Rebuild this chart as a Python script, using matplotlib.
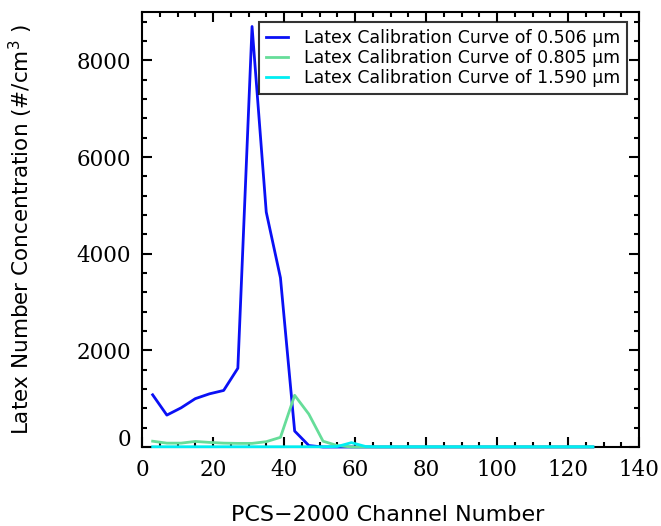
import numpy as np
import matplotlib
matplotlib.use("Agg")
import matplotlib.pyplot as plt
import matplotlib.transforms as mtransforms
from matplotlib.ticker import MultipleLocator

# PCS-2000 channel centres
channels = list(range(3, 128, 4))

conc_0506 = [1080, 660, 810, 1000, 1100, 1170, 1630, 8700, 4860, 3500, 330, 30,
             0, 0, 0, 0, 0, 0, 0, 0, 0, 0, 0, 0, 0, 0, 0, 0, 0, 0, 0, 0]
conc_0805 = [120, 80, 80, 115, 95, 80, 75, 75, 110, 200, 1070, 680,
             120, 30, 0, 0, 0, 0, 0, 0, 0, 0, 0, 0, 0, 0, 0, 0, 0, 0, 0, 0]
conc_1590 = [5, 5, 5, 5, 5, 5, 5, 5, 5, 5, 5, 5,
             5, 10, 90, 10, 5, 5, 5, 5, 5, 5, 5, 5, 5, 5, 5, 5, 5, 5, 5, 5]

series_labels = ["Latex Calibration Curve of 0.506 \u00b5m",
                 "Latex Calibration Curve of 0.805 \u00b5m",
                 "Latex Calibration Curve of 1.590 \u00b5m"]
series_colors = ["#0a10f5", "#66dd99", "#00eef2"]

x_ticks = [0, 20, 40, 60, 80, 100, 120, 140]
y_ticks = [0, 2000, 4000, 6000, 8000]

fig = plt.figure(figsize=(6.61, 5.26), dpi=100)
ax = fig.add_axes([142 / 661, 1 - 447 / 526, (639 - 142) / 661, (447 - 12) / 526])

for vals, lab, col in zip([conc_0506, conc_0805, conc_1590], series_labels, series_colors):
    ax.plot(channels, vals, color=col, lw=2.0, label=lab, clip_on=False, zorder=3)

ax.set_xlim(0, 140)
ax.set_ylim(0, 9000)
ax.set_xticks(x_ticks)
ax.set_yticks(y_ticks)
ax.xaxis.set_minor_locator(MultipleLocator(5))
ax.yaxis.set_minor_locator(MultipleLocator(400))
ax.tick_params(which="both", direction="in", top=True, right=True, width=1.5, color="black")
ax.tick_params(which="major", length=7)
ax.tick_params(which="minor", length=3.5)
ax.tick_params(axis="x", which="major", pad=9)
ax.tick_params(axis="y", which="major", pad=8)
for s in ax.spines.values():
    s.set_linewidth(1.5)

serif = "DejaVu Serif"
for t in ax.get_xticklabels() + ax.get_yticklabels():
    t.set_fontfamily(serif)
    t.set_fontsize(15.5)

# lift the "0" label on the y axis clear of the x tick labels
ylabs = ax.get_yticklabels()
ylabs[0].set_transform(ylabs[0].get_transform() +
                       mtransforms.ScaledTranslation(0, 10 / 100, fig.dpi_scale_trans))

sans = "DejaVu Sans"
fig.text(388 / 661, 1 - 515 / 526, "PCS\u22122000 Channel Number", fontfamily=sans,
         fontsize=16, ha="center", va="center")
fig.text(21 / 661, 1 - 230 / 526, "Latex Number Concentration (#/cm$^3$ )", fontfamily=sans,
         fontsize=15.5, ha="center", va="center", rotation=90)

leg = ax.legend(loc="upper right", bbox_to_anchor=(627 / 661, 1 - 22 / 526),
                bbox_transform=fig.transFigure, prop={"family": sans, "size": 12.5},
                frameon=True, fancybox=False, edgecolor="black", handlelength=1.3,
                handletextpad=0.9, labelspacing=0.12, borderpad=0.4, borderaxespad=0)
leg.get_frame().set_linewidth(1.5)

fig.savefig("out.png", dpi=100)
